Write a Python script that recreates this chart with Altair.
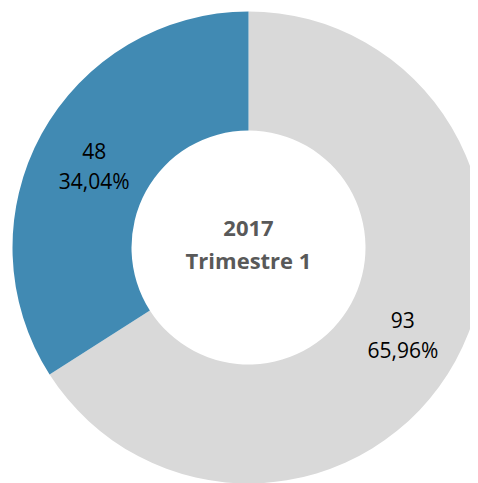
import altair as alt
import pandas as pd

categories = ["Autres", "Part"]
values = [93, 48]
colors = ["#D9D9D9", "#418AB3"]
center_title = ["2017", "Trimestre 1"]

total = sum(values)
labels = [f"{v}\n{v / total * 100:.2f}%".replace(".", ",") for v in values]

df = pd.DataFrame({
    "categorie": categories,
    "valeur": values,
    "label": labels,
    "ordre": list(range(len(categories))),
})

CX, CY = 240.5, 239.5

base = alt.Chart(df).encode(
    theta=alt.Theta("valeur:Q", stack=True),
    order=alt.Order("ordre:Q"),
)

arcs = base.mark_arc(radius=236, radius2=117, x=CX, y=CY, stroke=None).encode(
    color=alt.Color("categorie:N", scale=alt.Scale(domain=categories, range=colors), legend=None)
)

texts = base.mark_text(
    radius=176, x=CX, y=CY, dy=-10, font="Open Sans", fontSize=21, color="#000000",
    lineBreak="\n", lineHeight=30, baseline="middle",
).encode(text="label:N")

title_df = pd.DataFrame({"t": ["\n".join(center_title)]})
center = alt.Chart(title_df).mark_text(
    x=CX, y=220.5, font="Open Sans", fontSize=22, fontWeight="bold",
    color="#595959", lineBreak="\n", lineHeight=33, baseline="middle",
).encode(text="t:N")

chart = alt.layer(arcs, texts, center).properties(
    width=462, height=475, padding=0, autosize=alt.AutoSizeParams(type="none")
).configure_view(stroke=None)

chart.save("out.html", embed_options={"renderer": "svg", "actions": False})
